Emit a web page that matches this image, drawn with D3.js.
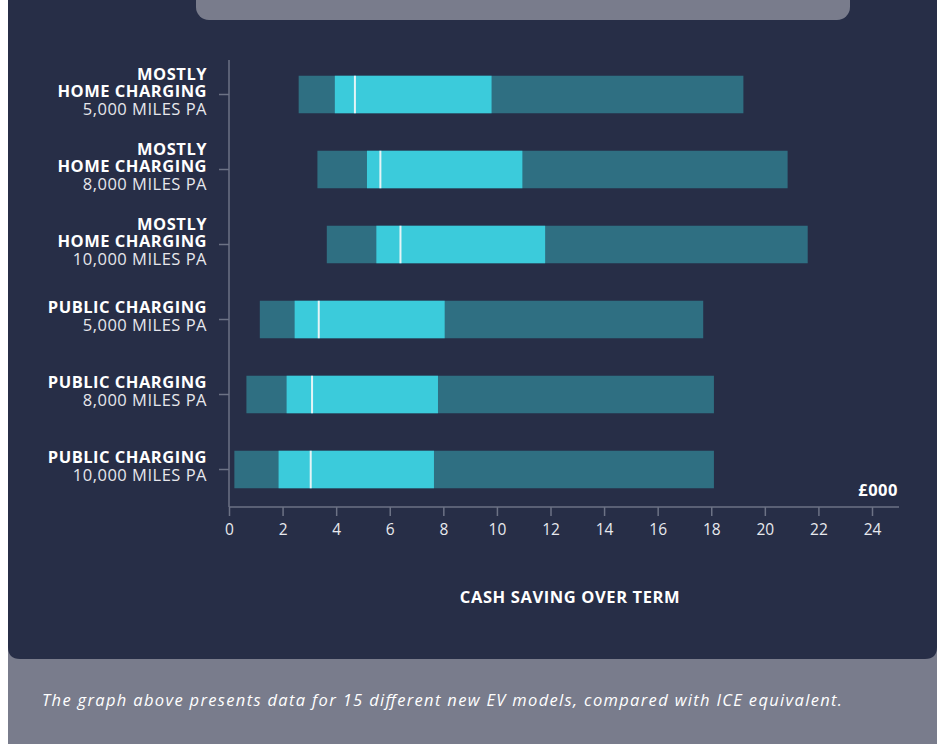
<!DOCTYPE html>
<html>
<head>
<meta charset="utf-8">
<script src="https://cdn.jsdelivr.net/npm/d3@7"></script>
<style>
  html, body { margin: 0; padding: 0; background: #ffffff; }
  svg { display: block; font-family: "Open Sans", Lato, sans-serif; }
</style>
</head>
<body>
<svg id="chart" width="937" height="744"></svg>
<script>
// Scenario labels (bold lines, then the mileage line)
const categoryHeads = [
  ["MOSTLY", "HOME CHARGING"],
  ["MOSTLY", "HOME CHARGING"],
  ["MOSTLY", "HOME CHARGING"],
  ["PUBLIC CHARGING"],
  ["PUBLIC CHARGING"],
  ["PUBLIC CHARGING"]
];
const categoryMiles = [
  "5,000 MILES PA", "8,000 MILES PA", "10,000 MILES PA",
  "5,000 MILES PA", "8,000 MILES PA", "10,000 MILES PA"
];
// Cash saving over term, £000, across the 15 EV models
const minValues    = [2.6, 3.3, 3.65, 1.15, 0.65, 0.2];
const lowerQuart   = [3.95, 5.15, 5.5, 2.45, 2.15, 1.85];
const medianValues = [4.7, 5.65, 6.4, 3.35, 3.1, 3.05];
const upperQuart   = [9.8, 10.95, 11.8, 8.05, 7.8, 7.65];
const maxValues    = [19.2, 20.85, 21.6, 17.7, 18.1, 18.1];
const xTicks = [0, 2, 4, 6, 8, 10, 12, 14, 16, 18, 20, 22, 24];

const rows = categoryMiles.map((m, i) => ({
  key: i, head: categoryHeads[i], miles: m,
  min: minValues[i], q1: lowerQuart[i], med: medianValues[i],
  q3: upperQuart[i], max: maxValues[i]
}));

const svg = d3.select("#chart");
const W = 937, H = 744;

// Panels
svg.append("rect").attr("x", 8).attr("y", 560).attr("width", W - 8).attr("height", H - 560)
  .attr("fill", "#797c8c");
svg.append("path")
  .attr("d", (() => {
    const x0 = 8, x1 = W, y0 = -20, y1 = 659, r = 12;
    return `M${x0},${y0} H${x1} V${y1 - r} Q${x1},${y1} ${x1 - r},${y1} H${x0 + r} Q${x0},${y1} ${x0},${y1 - r} Z`;
  })())
  .attr("fill", "#272e47");
svg.append("rect").attr("x", 196).attr("y", -20).attr("width", 654).attr("height", 40)
  .attr("rx", 13).attr("fill", "#797c8c");

// Scales
const x = d3.scaleLinear().domain([0, 24]).range([229, 872]);
const y = d3.scaleBand().domain(rows.map(d => d.key)).range([57, 507]).paddingInner(0.5).paddingOuter(0.25);

const g = svg.append("g");

// Bars: full range (dark), interquartile range (bright), median marker
g.selectAll("rect.range").data(rows).join("rect").attr("class", "range")
  .attr("x", d => x(d.min)).attr("width", d => x(d.max) - x(d.min))
  .attr("y", d => y(d.key)).attr("height", y.bandwidth())
  .attr("fill", "#2f6f82");
g.selectAll("rect.iqr").data(rows).join("rect").attr("class", "iqr")
  .attr("x", d => x(d.q1)).attr("width", d => x(d.q3) - x(d.q1))
  .attr("y", d => y(d.key)).attr("height", y.bandwidth())
  .attr("fill", "#3bcbdb");
g.selectAll("rect.med").data(rows).join("rect").attr("class", "med")
  .attr("x", d => x(d.med) - 1).attr("width", 2)
  .attr("y", d => y(d.key)).attr("height", y.bandwidth())
  .attr("fill", "#e4f4f6");

// Axes
const axisColor = "#6c7285";
svg.append("line").attr("x1", 229).attr("x2", 229).attr("y1", 60).attr("y2", 507)
  .attr("stroke", axisColor).attr("stroke-width", 1.5);
svg.append("line").attr("x1", 229).attr("x2", 899).attr("y1", 507).attr("y2", 507)
  .attr("stroke", axisColor).attr("stroke-width", 1.5);

const xAxis = svg.append("g").attr("transform", "translate(0,507)")
  .call(d3.axisBottom(x).tickValues(xTicks).tickSize(9).tickPadding(8).tickFormat(d3.format("d")));
xAxis.select(".domain").remove();
xAxis.selectAll(".tick line").attr("stroke", axisColor).attr("stroke-width", 1.5);
xAxis.selectAll(".tick text").attr("fill", "#e8e9ee").attr("font-size", 15.5)
  .attr("font-family", "'Open Sans', sans-serif");

// Category tick marks
svg.selectAll("line.ytick").data(rows).join("line").attr("class", "ytick")
  .attr("x1", 219).attr("x2", 229)
  .attr("y1", d => y(d.key) + y.bandwidth() / 2).attr("y2", d => y(d.key) + y.bandwidth() / 2)
  .attr("stroke", axisColor).attr("stroke-width", 1.5);

// Category labels: block of lines, last line sits a little below the bar centre
const lab = svg.selectAll("text.cat").data(rows).join("text").attr("class", "cat")
  .attr("text-anchor", "end").attr("font-size", 16.5).attr("letter-spacing", 0.5);
lab.each(function(d) {
  const t = d3.select(this);
  const lines = d.head.map(h => ({ text: h, bold: true })).concat([{ text: d.miles, bold: false }]);
  const cy = y(d.key) + y.bandwidth() / 2;
  const lh = 17.3;
  const last = cy + (lines.length === 3 ? 20 : 11);
  lines.forEach((l, i) => {
    t.append("tspan").attr("x", 207).attr("y", last - (lines.length - 1 - i) * lh)
      .attr("font-weight", l.bold ? 700 : 400)
      .attr("fill", l.bold ? "#ffffff" : "#e6e7ec")
      .text(l.text);
  });
});

// Unit and axis title
svg.append("text").attr("x", 898).attr("y", 496).attr("text-anchor", "end")
  .attr("font-size", 16.5).attr("letter-spacing", 0.5).attr("font-weight", 700)
  .attr("fill", "#ffffff").text("£000");
svg.append("text").attr("x", 570).attr("y", 603).attr("text-anchor", "middle")
  .attr("font-size", 16.5).attr("letter-spacing", 0.6).attr("font-weight", 700)
  .attr("fill", "#ffffff").text("CASH SAVING OVER TERM");

// Caption
svg.append("text").attr("x", 42).attr("y", 706)
  .attr("font-size", 16.5).attr("font-style", "italic").attr("fill", "#ffffff")
  .attr("textLength", 800).attr("lengthAdjust", "spacing")
  .text("The graph above presents data for 15 different new EV models, compared with ICE equivalent.");
</script>
</body>
</html>
